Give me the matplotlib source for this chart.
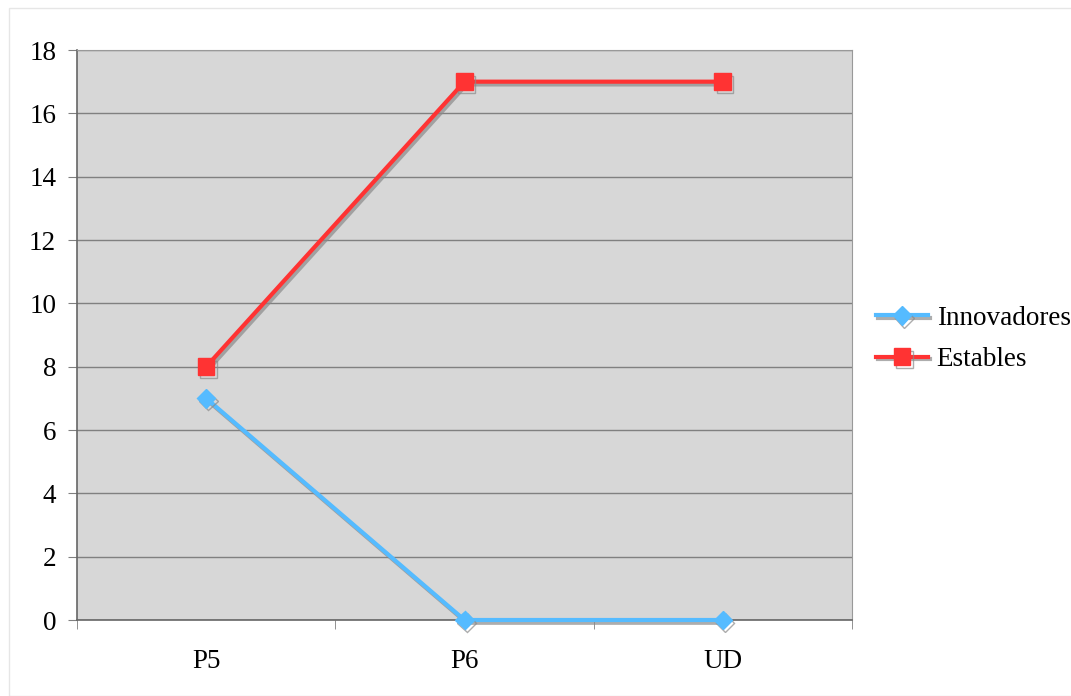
import matplotlib
matplotlib.use("Agg")
import matplotlib.pyplot as plt
import matplotlib.patheffects as pe
from matplotlib.patches import Rectangle

categories = ["P5", "P6", "UD"]
innovadores = [7, 0, 0]
estables = [8, 17, 17]
yticks = [0, 2, 4, 6, 8, 10, 12, 14, 16, 18]

plt.rcParams['font.family'] = ['Liberation Serif', 'DejaVu Serif']

fig = plt.figure(figsize=(10.71, 6.96), dpi=100)
fig.patches.append(Rectangle((9/1071, 0), 1.2, 1 - 8/696, transform=fig.transFigure,
                             fill=False, edgecolor='#e6e6e6', linewidth=1))
ax = fig.add_axes([77/1071, 1 - 620/696, 775/1071, 570/696])
ax.set_facecolor('#d7d7d7')

x = list(range(len(categories)))
shadow = [pe.SimpleLineShadow(offset=(1.5, -2), shadow_color='#8a8a8a', alpha=0.7), pe.Normal()]
ax.plot(x, estables, color='#ff3333', lw=3, marker='s', ms=12, label='Estables',
        path_effects=shadow, zorder=4, clip_on=False)
ax.plot(x, innovadores, color='#55bbff', lw=3, marker='D', ms=9.5, label='Innovadores',
        path_effects=shadow, zorder=5, clip_on=False)

ax.set_xlim(-0.5, 2.5)
ax.set_ylim(0, 18)
ax.set_yticks(yticks)
ax.set_xticks(x)
ax.set_xticklabels(categories)
ax.set_xticks([-0.5, 0.5, 1.5, 2.5], minor=True)
ax.tick_params(axis='x', which='major', length=0, pad=21, labelsize=19.5)
ax.tick_params(axis='x', which='minor', length=6.5, direction='out', color='#808080')
ax.tick_params(axis='y', length=6.5, direction='out', color='#808080', labelsize=19.5, pad=8.5)
ax.yaxis.grid(True, color='#808080', lw=1)
ax.set_axisbelow(True)
for s in ['top', 'right']:
    ax.spines[s].set_color('#999999')
for s in ['left', 'bottom']:
    ax.spines[s].set_color('#666666')
    ax.spines[s].set_linewidth(1.2)

h, l = ax.get_legend_handles_labels()
fig.legend(h[::-1], l[::-1], loc='center left', bbox_to_anchor=(852/1071, 1 - 339/696),
           frameon=False, fontsize=19.5, handlelength=1.9, handletextpad=0.33, labelspacing=0.6)

fig.savefig('out.png', dpi=100)
